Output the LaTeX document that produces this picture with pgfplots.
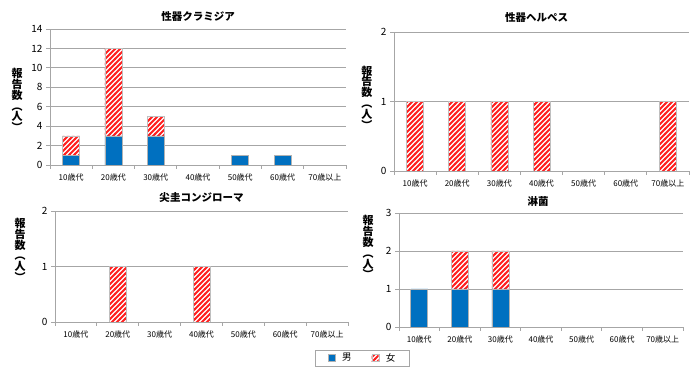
\documentclass[border=0pt]{standalone}
\usepackage{pgfplots}
\pgfplotsset{compat=1.18}
\usepackage{fontspec}
\setmainfont{Noto Sans CJK JP}
\usetikzlibrary{patterns}
\definecolor{maleblue}{HTML}{0070C0}
\definecolor{gridgray}{HTML}{A6A6A6}
\definecolor{hatchred}{HTML}{FF2020}
\pgfdeclarepatternformonly{redhatch}{\pgfqpoint{-1pt}{-1pt}}{\pgfqpoint{6pt}{6pt}}{\pgfqpoint{5pt}{5pt}}{%
  \pgfsetlinewidth{1.9pt}%
  \pgfpathmoveto{\pgfqpoint{-0.5pt}{-0.5pt}}%
  \pgfpathlineto{\pgfqpoint{5.5pt}{5.5pt}}%
  \pgfusepath{stroke}}
\pgfplotsset{
  panel/.style={
    scale only axis,
    xmin=-0.5, xmax=6.5, ymin=0,
    xtick={-0.5,0.5,...,6.5},
    x tick label as interval,
    xticklabels={10歳代,20歳代,30歳代,40歳代,50歳代,60歳代,70歳以上},
    axis x line*=bottom, axis y line*=left,
    axis line style={gridgray, line width=0.8pt, -},
    ymajorgrids, grid style={gridgray, line width=0.8pt},
    tick align=outside, tick style={gridgray, line width=0.8pt},
    major tick length=4pt,
    /pgf/number format/assume math mode=true,
    yticklabel style={font=\fontsize{10}{10}\selectfont},
    xticklabel style={font=\fontsize{8}{8}\selectfont, yshift=-1pt},
    title style={font=\bfseries\fontsize{10.5}{12}\selectfont, at={(0.5,1)}, anchor=center},
    ylabel={報\\告\\数\\︵\\人\\︶},
    ylabel style={rotate=-90, align=center, font=\bfseries\fontsize{11}{10.8}\selectfont, anchor=center},
    bar width=17pt,
  },
  sqlegend/.style={legend image code/.code={\draw[##1, line width=0.4pt] (0pt,-3.5pt) rectangle (7pt,3.5pt);}},
  male/.style={fill=maleblue, draw=gray!60, line width=0.6pt, sqlegend},
  female/.style={fill=white, draw=gray!50, line width=0.6pt, sqlegend,
    postaction={pattern=redhatch, pattern color=hatchred}},
}
\begin{document}
\begin{tikzpicture}
\path[use as bounding box] (0,0) rectangle (700pt,374pt);

% Panel 1
\begin{axis}[panel, ybar stacked,
  at={(50pt,209pt)}, anchor=south west, width=296pt, height=136pt,
  ymax=14, ytick={0,2,...,14},
  title={性器クラミジア},
  title style={yshift=6pt},
  ylabel style={at={(axis description cs:-0.111,0.478)}}]
\addplot[male] coordinates {(0,1) (1,3) (2,3) (3,0) (4,1) (5,1) (6,0)};
\addplot[female] coordinates {(0,2) (1,9) (2,2) (3,0) (4,0) (5,0) (6,0)};
\end{axis}

% Panel 2
\begin{axis}[panel, ybar,
  at={(394pt,203pt)}, anchor=south west, width=295pt, height=139pt,
  ymax=2, ytick={0,1,2},
  title={性器ヘルペス},
  title style={xshift=-5pt, yshift=8pt},
  ylabel style={at={(axis description cs:-0.092,0.53)}}]
\addplot[female] coordinates {(0,1) (1,1) (2,1) (3,1) (6,1)};
\end{axis}

% Panel 3
\begin{axis}[panel, ybar,
  at={(55pt,52pt)}, anchor=south west, width=293pt, height=111pt,
  ymax=2, ytick={0,1,2},
  title={尖圭コンジローマ},
  title style={yshift=7pt},
  ylabel style={at={(axis description cs:-0.119,0.65)}}]
\addplot[female] coordinates {(1,1) (3,1)};
\end{axis}

% Panel 4
\begin{axis}[panel, ybar stacked,
  at={(399pt,47pt)}, anchor=south west, width=284pt, height=114pt,
  ymax=3, ytick={0,1,2,3},
  title={淋菌},
  title style={xshift=-3pt, yshift=6pt},
  ylabel style={at={(axis description cs:-0.109,0.70)}},
  legend columns=2,
  legend style={at={(-0.1285,-0.272)}, anchor=center, draw=gray!70,
    font=\fontsize{9.5}{10}\selectfont, inner xsep=12pt, inner ysep=1pt,
    /tikz/every odd column/.append style={column sep=5pt},
    /tikz/every even column/.append style={column sep=18pt}}]
\addplot[male] coordinates {(0,1) (1,1) (2,1) (3,0) (4,0) (5,0) (6,0)};
\addlegendentry{男}
\addplot[female] coordinates {(0,0) (1,1) (2,1) (3,0) (4,0) (5,0) (6,0)};
\addlegendentry{女}
\end{axis}
\end{tikzpicture}
\end{document}
